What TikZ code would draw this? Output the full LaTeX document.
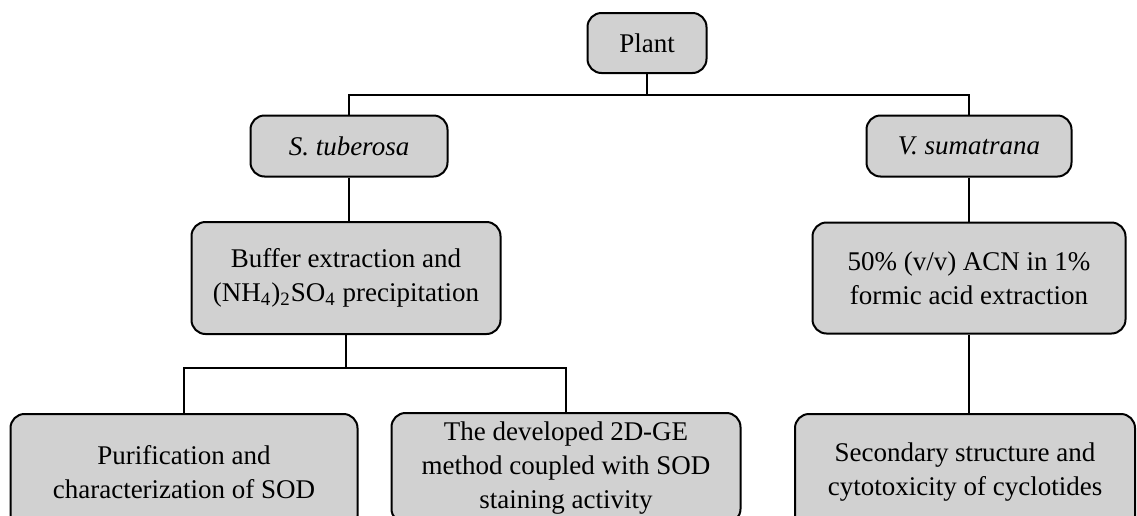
\documentclass[tikz,border=0pt]{standalone}
\usepackage{fontspec}
\setmainfont{Liberation Serif}
\begin{document}
\begin{tikzpicture}[x=0.5pt,y=-0.5pt,
  box/.style={draw, line width=1pt, rounded corners=7pt, fill=black!18,
    align=center, inner sep=0pt, font=\fontsize{13.5}{17}\selectfont},
  link/.style={line width=0.8pt}]
  \clip (0,0) rectangle (1137,515);
  \fill[white] (0,0) rectangle (1137,515);

  \node[box, minimum width=59.5pt, minimum height=30pt] (plant) at (647,43) {Plant};
  %
  \node[box, minimum width=98.5pt, minimum height=30.5pt] (stub) at (349,146) {\textit{S. tuberosa}};
  \node[box, minimum width=102.5pt, minimum height=30.5pt] (vsum) at (969,146) {\textit{V. sumatrana}};
  %
  \node[box, minimum width=154.5pt, minimum height=56pt] (buffer) at (346,278)
    {Buffer extraction and\\(NH\textsubscript{4})\textsubscript{2}SO\textsubscript{4} precipitation};
  \node[box, minimum width=156.5pt, minimum height=55.5pt] (acn) at (969,278)
    {50\% (v/v) ACN in 1\%\\formic acid extraction};
  %%%%%%%%%%%%%%%%%%%%%
  \node[box, minimum width=173.5pt, minimum height=58pt] (sod) at (184,472)
    {Purification and\\characterization of SOD};
  \node[box, minimum width=174.5pt, minimum height=55pt] (ge) at (566,468)
    {The developed 2D-GE\\method coupled with SOD\\staining activity};
  \node[box, minimum width=170pt, minimum height=58pt] (cyc) at (965,472)
    {Secondary structure and\\cytotoxicity of cyclotides};
  %%%%%%%%%%%%%%%%%%%%%
  \draw[link] (plant.south) -- ++(0,21) -| (stub.north);
  \draw[link] (plant.south) -- ++(0,21) -| (vsum.north);
  \draw[link] (stub.south) -- (stub.south |- buffer.north);
  \draw[link] (vsum.south) -- (vsum.south |- acn.north);
  \draw[link] (buffer.south) -- ++(0,33) -| (sod.north);
  \draw[link] (buffer.south) -- ++(0,33) -| (ge.north);
  \draw[link] (acn.south) -- (acn.south |- cyc.north);
\end{tikzpicture}
\end{document}
